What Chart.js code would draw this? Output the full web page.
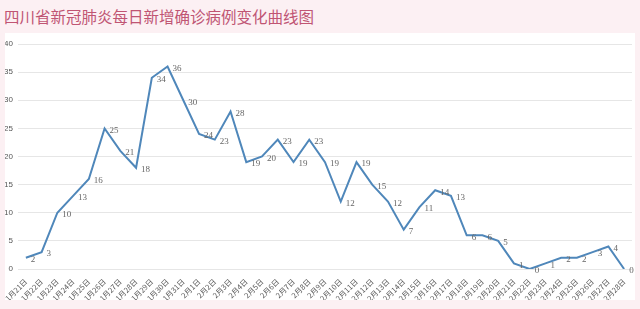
<!DOCTYPE html>
<html>
<head>
<meta charset="utf-8">
<script src="https://cdn.jsdelivr.net/npm/chart.js@4/dist/chart.umd.min.js"></script>
<style>
  body { margin: 0; background: #fcf0f3; width: 640px; height: 309px; overflow: hidden; }
  #title {
    position: absolute; left: 4px; top: 5px;
    font-family: "Noto Sans CJK SC", sans-serif; font-size: 15.5px;
    color: #c05573; letter-spacing: 0px; white-space: nowrap;
  }
  #panel { position: absolute; left: 5px; top: 33px; width: 630px; height: 267px; background: #fff; }
</style>
</head>
<body>
<div id="title">四川省新冠肺炎每日新增确诊病例变化曲线图</div>
<div id="panel"><canvas id="lineChart" width="630" height="267"></canvas></div>
<script>
const dates = [
  "1月21日", "1月22日", "1月23日", "1月24日", "1月25日", "1月26日", "1月27日",
  "1月28日", "1月29日", "1月30日", "1月31日", "2月1日", "2月2日", "2月3日",
  "2月4日", "2月5日", "2月6日", "2月7日", "2月8日", "2月9日", "2月10日",
  "2月11日", "2月12日", "2月13日", "2月14日", "2月15日", "2月16日", "2月17日",
  "2月18日", "2月19日", "2月20日", "2月21日", "2月22日", "2月23日", "2月24日",
  "2月25日", "2月26日", "2月27日", "2月28日",
];
const newCases = [
  2, 3, 10, 13, 16, 25, 21, 18, 34, 36, 30, 24, 23, 28, 19, 20, 23, 19, 23, 19,
  12, 19, 15, 12, 7, 11, 14, 13, 6, 6, 5, 1, 0, 1, 2, 2, 3, 4, 0,
];
const yTicks = [0, 5, 10, 15, 20, 25, 30, 35, 40];

// draws the value next to each point (no datalabels plugin available)
const valueLabels = {
  id: "valueLabels",
  afterDatasetsDraw(chart) {
    const ctx = chart.ctx;
    const meta = chart.getDatasetMeta(0);
    ctx.save();
    ctx.font = "9px 'Liberation Serif', serif";
    ctx.fillStyle = "#666";
    ctx.textAlign = "left";
    ctx.textBaseline = "middle";
    meta.data.forEach((pt, i) => {
      ctx.fillText(String(newCases[i]), pt.x + 5, pt.y + 2);
    });
    ctx.restore();
  },
};

new Chart(document.getElementById("lineChart").getContext("2d"), {
  type: "line",
  data: {
    labels: dates,
    datasets: [
      {
        data: newCases,
        borderColor: "#4f87ba",
        borderWidth: 2,
        pointRadius: 0,
        tension: 0,
        fill: false,
      },
    ],
  },
  options: {
    responsive: false,
    animation: false,
    layout: { padding: { top: 11, right: 3, left: 0, bottom: 0 } },
    plugins: {
      legend: { display: false },
      tooltip: { enabled: false },
    },
    scales: {
      x: {
        offset: true,
        grid: { display: false },
        border: { display: false },
        ticks: {
          autoSkip: false,
          minRotation: 45,
          maxRotation: 45,
          padding: 0,
          color: "#555",
          font: { size: 7.5, family: "'Noto Sans CJK SC', sans-serif" },
        },
        afterFit(scale) { scale.height = 31; },
      },
      y: {
        min: 0,
        max: 40,
        afterBuildTicks(scale) { scale.ticks = yTicks.map((v) => ({ value: v })); },
        grid: { color: "#e6e6e6", drawTicks: false },
        border: { display: false },
        ticks: {
          padding: 5,
          color: "#555",
          font: { size: 8, family: "'Liberation Sans', sans-serif" },
        },
        afterFit(scale) { scale.width = 13; },
      },
    },
  },
  plugins: [valueLabels],
});
</script>
</body>
</html>
